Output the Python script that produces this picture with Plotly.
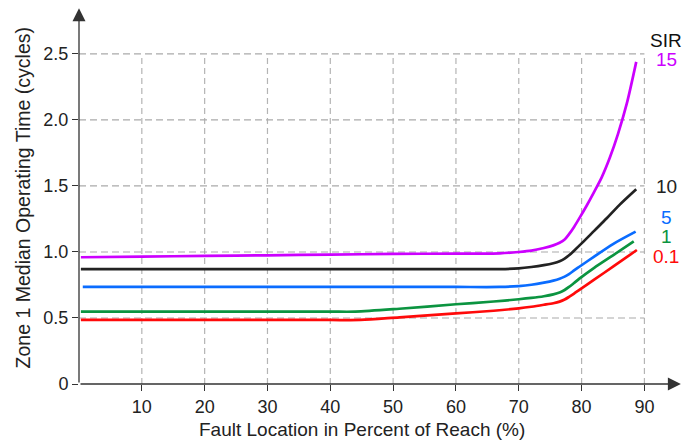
import plotly.graph_objects as go

# ---- data ----
sir_labels = ["15", "10", "5", "1", "0.1"]
colors = ["#cc00ff", "#222222", "#0a6cff", "#0b9440", "#ff0a0a"]

x_sir15 = [0.3, 10, 20, 30, 40, 50, 60, 67, 70, 72, 74, 75.5, 76.5, 77.3, 78, 78.8, 79.7, 80.8, 82, 83.2, 84.5, 85.8, 87.2, 88.7]
y_sir15 = [0.96, 0.965, 0.97, 0.975, 0.98, 0.985, 0.988, 0.99, 1.0, 1.01, 1.03, 1.05, 1.07, 1.095, 1.135, 1.19, 1.26, 1.35, 1.455, 1.565, 1.715, 1.895, 2.125, 2.44]

x_sir10 = [0.3, 10, 20, 30, 40, 50, 60, 67, 70, 72, 74, 75.5, 76.5, 77.3, 78, 78.8, 80, 82, 84, 86, 88.7]
y_sir10 = [0.87, 0.87, 0.87, 0.87, 0.87, 0.87, 0.87, 0.87, 0.876, 0.886, 0.9, 0.915, 0.93, 0.95, 0.975, 1.01, 1.065, 1.16, 1.255, 1.355, 1.475]

x_sir5 = [0.6, 10, 20, 30, 40, 50, 60, 67, 70, 72, 74, 75.5, 76.5, 77.3, 78, 78.8, 79.7, 82, 85, 88.6]
y_sir5 = [0.735, 0.735, 0.735, 0.735, 0.735, 0.735, 0.735, 0.735, 0.742, 0.752, 0.768, 0.783, 0.797, 0.813, 0.833, 0.86, 0.89, 0.965, 1.06, 1.154]

x_sir1 = [0.3, 10, 20, 30, 40, 44, 51, 60, 66, 70, 72, 74, 75.5, 76.6, 77.3, 78, 78.8, 79.7, 82, 85, 88.3]
y_sir1 = [0.548, 0.548, 0.548, 0.548, 0.548, 0.548, 0.57, 0.604, 0.625, 0.642, 0.652, 0.665, 0.679, 0.695, 0.712, 0.735, 0.765, 0.8, 0.88, 0.975, 1.08]

x_sir01 = [0.3, 10, 20, 30, 40, 44.8, 51, 60, 66, 70, 72, 74, 75.5, 76.5, 77.3, 78, 78.8, 79.7, 82, 85, 88.8]
y_sir01 = [0.485, 0.485, 0.485, 0.485, 0.485, 0.485, 0.505, 0.535, 0.555, 0.573, 0.585, 0.6, 0.612, 0.624, 0.64, 0.66, 0.685, 0.715, 0.79, 0.889, 1.015]

xs = [x_sir15, x_sir10, x_sir5, x_sir1, x_sir01]
ys = [y_sir15, y_sir10, y_sir5, y_sir1, y_sir01]

x_ticks = [10, 20, 30, 40, 50, 60, 70, 80, 90]
x_ticktext = ["10", "20", "30", "40", "50", "60", "70", "80", "90"]
y_ticks = [0, 0.5, 1.0, 1.5, 2.0, 2.5]
y_ticktext = ["0", "0.5", "1.0", "1.5", "2.0", "2.5"]

# label positions (layout)
label_y = [2.455, 1.495, 1.259, 1.117, 0.969]

FONT = "Liberation Sans, Arial, sans-serif"
fig = go.Figure()

for xv, yv, c in zip(xs, ys, colors):
    fig.add_trace(go.Scatter(x=xv, y=yv, mode="lines",
                             line=dict(color=c, width=2.7, shape="spline", smoothing=0.8),
                             showlegend=False, hoverinfo="skip"))

shapes = []
for xt in x_ticks:
    shapes.append(dict(type="line", xref="x", yref="y", x0=xt, x1=xt, y0=0, y1=max(y_ticks),
                       line=dict(color="#b4b4b4", width=1.2, dash="6px,4px"), layer="below"))
for yt in y_ticks[1:]:
    shapes.append(dict(type="line", xref="x", yref="y", x0=0, x1=max(x_ticks), y0=yt, y1=yt,
                       line=dict(color="#aaaaaa", width=1.2, dash="7px,4px"), layer="below"))

annotations = []
# axis arrows
annotations.append(dict(x=95.8, y=0, ax=0, ay=0, xref="x", yref="y", axref="x", ayref="y",
                        text="", showarrow=True, arrowhead=2, arrowsize=2.0, arrowwidth=1.3,
                        arrowcolor="#333333"))
annotations.append(dict(x=0, y=2.846, ax=0, ay=0, xref="x", yref="y", axref="x", ayref="y",
                        text="", showarrow=True, arrowhead=2, arrowsize=2.0, arrowwidth=1.3,
                        arrowcolor="#333333"))
# SIR labels
annotations.append(dict(x=93.5, y=2.604, xref="x", yref="y", text="SIR", showarrow=False,
                        font=dict(family=FONT, size=19, color="#111111"),
                        xanchor="center", yanchor="middle"))
for lab, ly, c in zip(sir_labels, label_y, colors):
    annotations.append(dict(x=93.5, y=ly, xref="x", yref="y", text=lab, showarrow=False,
                            font=dict(family=FONT, size=19, color=c),
                            xanchor="center", yanchor="middle"))
# axis titles
annotations.append(dict(x=45, y=-0.1223, xref="x", yref="paper",
                        text="Fault Location in Percent of Reach (%)", showarrow=False,
                        font=dict(family=FONT, size=19, color="#222222"),
                        xanchor="center", yanchor="middle"))
annotations.append(dict(x=-0.0926, y=1.413, xref="paper", yref="y",
                        text="Zone 1 Median Operating Time (cycles)", showarrow=False,
                        textangle=-90, font=dict(family=FONT, size=19.5, color="#222222"),
                        xanchor="center", yanchor="middle"))

# the page body keeps an 8px margin, so the figure is 8px smaller on each axis
fig.update_layout(
    width=686, height=435,
    margin=dict(l=71, r=10, t=0, b=59),
    paper_bgcolor="white", plot_bgcolor="white",
    shapes=shapes, annotations=annotations,
    font=dict(family=FONT, size=18, color="#222222"),
)
fig.update_xaxes(range=[0, 96.3], tickvals=x_ticks, ticktext=x_ticktext,
                 showgrid=False, zeroline=False, showline=False,
                 ticks="outside", ticklen=6, tickcolor="#333333", tickwidth=1.2,
                 tickfont=dict(family=FONT, size=18, color="#222222"))
fig.update_yaxes(range=[0, 2.848], tickvals=y_ticks, ticktext=y_ticktext,
                 showgrid=False, zeroline=False, showline=False,
                 ticks="outside", ticklen=6, tickcolor="#333333", tickwidth=1.2,
                 tickfont=dict(family=FONT, size=18, color="#222222"))

fig.write_html("out.html")
